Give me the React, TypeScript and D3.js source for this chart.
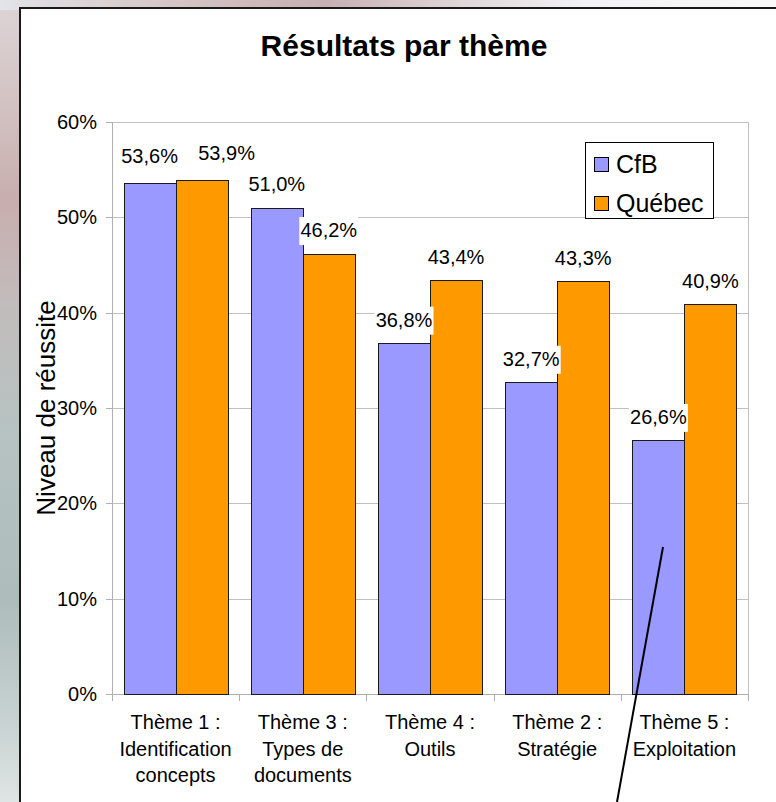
import React from "react";
import * as d3 from "d3";

const categories = [
  ["Thème 1 :", "Identification", "concepts"],
  ["Thème 3 :", "Types de", "documents"],
  ["Thème 4 :", "Outils"],
  ["Thème 2 :", "Stratégie"],
  ["Thème 5 :", "Exploitation"],
];
const seriesNames = ["CfB", "Québec"];
const cfbValues = [53.6, 51.0, 36.8, 32.7, 26.6];
const quebecValues = [53.9, 46.2, 43.4, 43.3, 40.9];
const yTicks = [0, 10, 20, 30, 40, 50, 60];
const colors = ["#9999FF", "#FF9900"];

// manual label nudges (layout only), keyed "series-index"
const labelNudge: Record<string, [number, number]> = {
  "0-0": [0, -4],
  "1-0": [25, -4],
};

const W = 776;
const H = 802;
const FONT = "'Liberation Sans', Arial, sans-serif";

export default function App() {
  const plotL = 112, plotR = 748, plotT = 122, plotB = 694;
  const catKeys = categories.map((c) => c[0]);
  const x = d3.scaleBand<string>().domain(catKeys).range([plotL, plotR]).padding(0);
  const x1 = d3
    .scaleBand<string>()
    .domain(seriesNames)
    .range([0, x.bandwidth()])
    .paddingInner(0)
    .paddingOuter(0.223);
  const y = d3.scaleLinear().domain([0, 60]).range([plotB, plotT]);
  const values = [cfbValues, quebecValues];
  const fmt = (v: number) => v.toFixed(1).replace(".", ",") + "%";

  const bars: JSX.Element[] = [];
  const labels: JSX.Element[] = [];
  values.forEach((vals, s) => {
    vals.forEach((v, i) => {
      const bx = (x(catKeys[i]) as number) + (x1(seriesNames[s]) as number);
      const bw = x1.bandwidth();
      const top = y(v);
      bars.push(
        <rect
          key={`b${s}-${i}`}
          x={Math.round(bx) + 0.5}
          y={Math.round(top) + 0.5}
          width={Math.round(bw)}
          height={Math.round(plotB - top)}
          fill={colors[s]}
          stroke="#1a1a1a"
          strokeWidth={1}
        />
      );
      const nudge = labelNudge[`${s}-${i}`] || [0, 0];
      const cx = bx + bw / 2 + nudge[0];
      const base = top - 16.5 + nudge[1];
      const tw = 57;
      labels.push(
        <g key={`l${s}-${i}`}>
          <rect x={cx - tw / 2 - 1} y={base - 20} width={tw + 2} height={28} fill="#fff" />
          <text x={cx} y={base} textAnchor="middle" fontSize={20} fontFamily={FONT} fill="#000">
            {fmt(v)}
          </text>
        </g>
      );
    });
  });

  return (
    <svg
      width={W}
      height={H}
      viewBox={`0 0 ${W} ${H}`}
      style={{ position: "fixed", left: 0, top: 0 }}
    >
      <defs>
        <linearGradient id="leftBg" x1="0" y1="0" x2="0" y2="1">
          <stop offset="0" stopColor="#ddd4d6" />
          <stop offset="0.12" stopColor="#d4c4c4" />
          <stop offset="0.25" stopColor="#c8aeae" />
          <stop offset="0.38" stopColor="#c2bcbc" />
          <stop offset="0.55" stopColor="#b6c2c2" />
          <stop offset="0.75" stopColor="#aebcbc" />
          <stop offset="0.9" stopColor="#c8d2d2" />
          <stop offset="1" stopColor="#dfe4e4" />
        </linearGradient>
        <linearGradient id="topBg" x1="0" y1="0" x2="1" y2="0">
          <stop offset="0" stopColor="#e2e4e8" />
          <stop offset="0.1" stopColor="#dcd6d8" />
          <stop offset="0.25" stopColor="#d2c2c4" />
          <stop offset="0.42" stopColor="#c6b0b4" />
          <stop offset="0.6" stopColor="#e0d8da" />
          <stop offset="0.75" stopColor="#f2f2f4" />
          <stop offset="1" stopColor="#fafafa" />
        </linearGradient>
      </defs>
      <rect x={0} y={0} width={W} height={H} fill="url(#leftBg)" />
      <rect x={0} y={0} width={W} height={10} fill="url(#topBg)" />
      <rect x={20} y={8} width={W} height={H} fill="#fff" stroke="#1a1a1a" strokeWidth={2} />

      <text
        x={404}
        y={56}
        textAnchor="middle"
        fontSize={30}
        fontWeight="bold"
        fontFamily={FONT}
        fill="#000"
      >
        Résultats par thème
      </text>

      {/* gridlines */}
      {yTicks.slice(1).map((t) => (
        <line
          key={`g${t}`}
          x1={plotL}
          x2={plotR}
          y1={Math.round(y(t)) + 0.5}
          y2={Math.round(y(t)) + 0.5}
          stroke="#c0c0c0"
          strokeWidth={1}
        />
      ))}
      <line x1={plotR + 0.5} x2={plotR + 0.5} y1={plotT} y2={plotB} stroke="#c0c0c0" />
      {/* axes */}
      <line x1={plotL + 0.5} x2={plotL + 0.5} y1={plotT} y2={plotB + 1} stroke="#b0b0b0" />
      <line x1={plotL - 6} x2={plotR} y1={plotB + 0.5} y2={plotB + 0.5} stroke="#b0b0b0" />
      {yTicks.map((t) => (
        <g key={`yt${t}`}>
          <line
            x1={plotL - 6}
            x2={plotL}
            y1={Math.round(y(t)) + 0.5}
            y2={Math.round(y(t)) + 0.5}
            stroke="#b0b0b0"
          />
          <text
            x={97}
            y={y(t) + 7}
            textAnchor="end"
            fontSize={20}
            fontFamily={FONT}
            fill="#000"
          >
            {t}%
          </text>
        </g>
      ))}
      {catKeys.map((k, i) => (
        <line
          key={`xt${i}`}
          x1={Math.round(x(k) as number) + 0.5}
          x2={Math.round(x(k) as number) + 0.5}
          y1={plotB}
          y2={plotB + 7}
          stroke="#b0b0b0"
        />
      ))}
      <line x1={plotR + 0.5} x2={plotR + 0.5} y1={plotB} y2={plotB + 7} stroke="#b0b0b0" />

      {bars}
      {labels}

      {categories.map((lines, i) => {
        const cx = (x(catKeys[i]) as number) + x.bandwidth() / 2;
        return (
          <text key={`c${i}`} textAnchor="middle" fontSize={20} fontFamily={FONT} fill="#000">
            {lines.map((ln, j) => (
              <tspan key={j} x={cx} y={729 + j * 26.5}>
                {ln}
              </tspan>
            ))}
          </text>
        );
      })}

      <text
        transform={`translate(55, 408) rotate(-90)`}
        textAnchor="middle"
        fontSize={26}
        fontFamily={FONT}
        fill="#000"
      >
        Niveau de réussite
      </text>

      {/* legend */}
      <rect x={585.5} y={142.5} width={128} height={76} fill="#fff" stroke="#000" strokeWidth={1} />
      {seriesNames.map((n, s) => (
        <g key={`lg${s}`}>
          <rect
            x={594.5}
            y={157.5 + s * 39}
            width={14}
            height={14}
            fill={colors[s]}
            stroke="#000"
          />
          <text x={616} y={173 + s * 39} fontSize={25} fontFamily={FONT} fill="#000">
            {n}
          </text>
        </g>
      ))}

      {/* annotation line */}
      <line x1={663} y1={547} x2={617} y2={802} stroke="#000" strokeWidth={2} />
    </svg>
  );
}
